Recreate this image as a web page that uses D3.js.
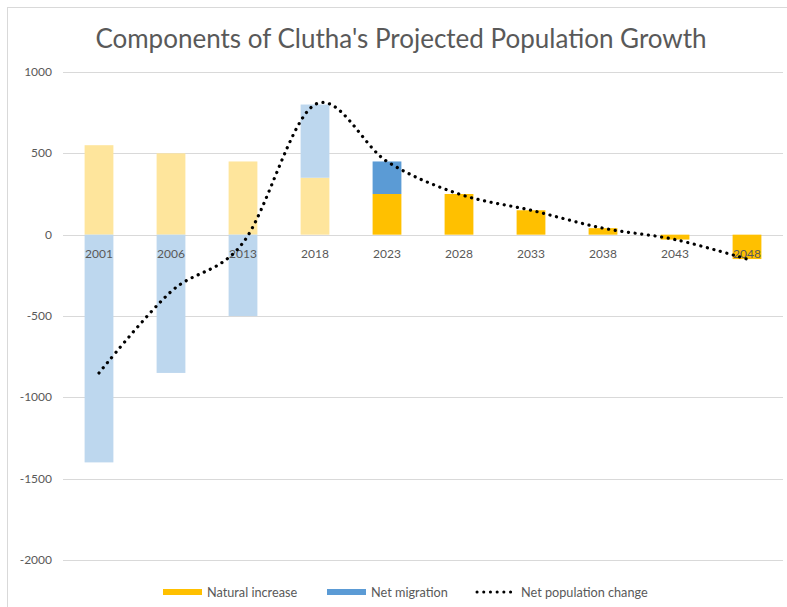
<!DOCTYPE html>
<html>
<head>
<meta charset="utf-8">
<script src="https://cdn.jsdelivr.net/npm/d3@7"></script>
<style>
  body { margin: 0; background: #fff; }
  text { font-family: Lato, "Open Sans", sans-serif; fill: #595959; }
</style>
</head>
<body>
<script>
// chart data
var years = ["2001", "2006", "2013", "2018", "2023", "2028", "2033", "2038", "2043", "2048"];
var naturalIncrease = [550, 500, 450, 350, 250, 250, 150, 40, -30, -150];
var netMigration = [-1400, -850, -500, 450, 200, 0, 0, 0, 0, 0];
var netChange = [-850, -350, -50, 800, 450, 250, 150, 40, -30, -150];
var yTicks = [1000, 500, 0, -500, -1000, -1500, -2000];
var firstProjected = "2023";

var width = 787,
    height = 607;

var svg = d3.select("body").append("svg")
    .attr("width", width)
    .attr("height", height);

// chart frame
svg.append("rect")
    .attr("x", 7.5).attr("y", 7.5)
    .attr("width", 790).attr("height", 610)
    .attr("fill", "none")
    .attr("stroke", "#d9d9d9");

svg.append("text")
    .attr("x", 401)
    .attr("y", 48)
    .attr("text-anchor", "middle")
    .style("font-size", "26px")
    .text("Components of Clutha's Projected Population Growth");

var x = d3.scaleBand().domain(years).range([63, 783]).paddingInner(0.6).paddingOuter(0.3);
var y = d3.scaleLinear().domain([-2000, 1000]).range([560, 72]);

// gridlines
svg.append("g")
    .selectAll("line")
    .data(yTicks)
    .enter().append("line")
    .attr("x1", 63).attr("x2", 783)
    .attr("y1", function(d) { return Math.round(y(d)) + 0.5; })
    .attr("y2", function(d) { return Math.round(y(d)) + 0.5; })
    .attr("stroke", "#d9d9d9")
    .attr("stroke-width", 1);

svg.append("g")
    .selectAll("text")
    .data(yTicks)
    .enter().append("text")
    .attr("x", 52)
    .attr("y", function(d) { return y(d) + 4; })
    .attr("text-anchor", "end")
    .style("font-size", "12px")
    .text(function(d) { return d; });

// stacked bars
var table = years.map(function(yr, i) {
    return { year: yr, natural: naturalIncrease[i], migration: netMigration[i] };
});
var stack = d3.stack().keys(["natural", "migration"]).offset(d3.stackOffsetDiverging);
var series = stack(table);

var projIndex = years.indexOf(firstProjected);
var colors = {
    natural: ["#fee59c", "#ffc000"],
    migration: ["#bdd7ee", "#5b9bd5"]
};

svg.append("g")
    .selectAll("g")
    .data(series)
    .enter().append("g")
    .each(function(s) {
        d3.select(this).selectAll("rect")
            .data(s)
            .enter().append("rect")
            .attr("x", function(d) { return x(d.data.year); })
            .attr("width", x.bandwidth())
            .attr("y", function(d) { return y(Math.max(d[0], d[1])); })
            .attr("height", function(d) { return Math.abs(y(d[0]) - y(d[1])); })
            .attr("fill", function(d, i) { return colors[s.key][i >= projIndex ? 1 : 0]; });
    });

// category labels
svg.append("g")
    .selectAll("text")
    .data(years)
    .enter().append("text")
    .attr("x", function(d) { return x(d) + x.bandwidth() / 2; })
    .attr("y", y(0) + 23)
    .attr("text-anchor", "middle")
    .style("font-size", "12px")
    .text(function(d) { return d; });

// net change line (smoothed like the spreadsheet)
var line = d3.line()
    .x(function(d, i) { return x(years[i]) + x.bandwidth() / 2; })
    .y(function(d) { return y(d); })
    .curve(d3.curveCatmullRom.alpha(0));

svg.append("path")
    .datum(netChange)
    .attr("d", line)
    .attr("fill", "none")
    .attr("stroke", "#000")
    .attr("stroke-width", 3.2)
    .attr("stroke-linecap", "round")
    .attr("stroke-dasharray", "0.1 6.6");

// legend
var legend = svg.append("g").attr("transform", "translate(0,592)");
legend.append("rect").attr("x", 163).attr("y", -3).attr("width", 39).attr("height", 6).attr("fill", "#ffc000");
legend.append("text").attr("x", 207).attr("y", 4.5).style("font-size", "12.7px").text("Natural increase");
legend.append("rect").attr("x", 327).attr("y", -3).attr("width", 39).attr("height", 6).attr("fill", "#5b9bd5");
legend.append("text").attr("x", 371).attr("y", 4.5).style("font-size", "12.7px").text("Net migration");
legend.append("line").attr("x1", 477).attr("x2", 516).attr("y1", 0).attr("y2", 0)
    .attr("stroke", "#000").attr("stroke-width", 3).attr("stroke-linecap", "round")
    .attr("stroke-dasharray", "0.1 6.6");
legend.append("text").attr("x", 521).attr("y", 4.5).style("font-size", "12.7px").text("Net population change");
</script>
</body>
</html>
